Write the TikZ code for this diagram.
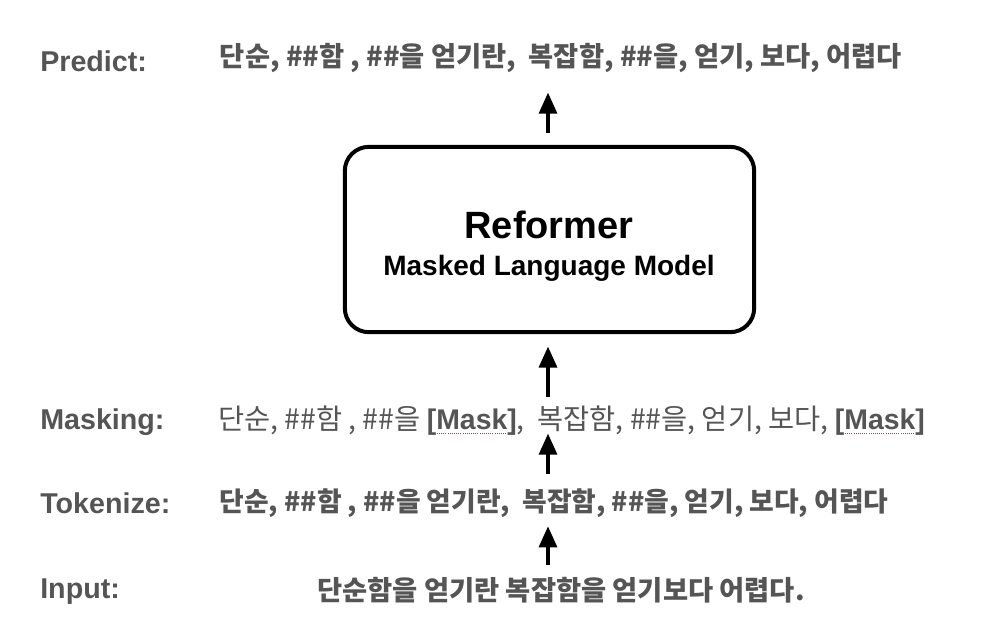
\documentclass[tikz,border=0pt]{standalone}
\usepackage{fontspec}
\usepackage{calc}
\setmainfont{Liberation Sans}
\newfontfamily\kr{Noto Sans CJK KR}
\usetikzlibrary{arrows.meta}

\definecolor{txtgray}{RGB}{85,85,85}
\definecolor{spellred}{RGB}{230,40,40}

\newlength\maskwd
\newcommand\maskword[1]{\settowidth\maskwd{#1}\rlap{\color{spellred}\raisebox{-3.5pt}{\hbox to \maskwd{\leaders\hbox to 1.6pt{\hss\rule{0.7pt}{0.7pt}\hss}\hfill}}}#1}

\tikzset{
  steplabel/.style={anchor=west, inner sep=0pt, text=txtgray, font=\bfseries\fontsize{21.5}{26}\selectfont},
  tokline/.style={inner sep=0pt, text=txtgray, text height=16pt, text depth=1.5pt, font=\kr\fontsize{21.3}{25}\selectfont},
  boldline/.style={tokline, font=\kr\bfseries\fontsize{20.5}{25}\selectfont},
  modelbox/.style={draw, line width=3pt, rounded corners=18pt, minimum width=307pt, minimum height=139pt},
  upflow/.style={line width=3.6pt, -{Triangle[width=13pt,length=16pt]}},
}

\begin{document}
\begin{tikzpicture}[x=0.75pt,y=0.75pt,yscale=-1,xscale=1]
\useasboundingbox (0,0) rectangle (996,640);

% Labels on the left
\node [steplabel] (lpred) at (40,61) {Predict:};
\node [steplabel] (lmask) at (40,422) {Masking:};
\node [steplabel] (ltok) at (40,503) {Tokenize:};
\node [steplabel] (linp) at (40,592) {Input:};

% Text lines
\node [boldline] (pred) at (561,57) {단순, \#\#함 , \#\#을 얻기란,\ \ 복잡함, \#\#을, 얻기, 보다, 어렵다};
\node [tokline] (mask) at (571.5,420) {단순, \#\#함 , \#\#을 {\rmfamily\bfseries [\maskword{Mask}]},\ \ 복잡함, \#\#을, 얻기, 보다, {\rmfamily\bfseries [\maskword{Mask}]}};
\node [boldline, font=\kr\bfseries\fontsize{20.1}{25}\selectfont] (tok) at (554,502) {단순, \#\#함 , \#\#을 얻기란,\ \ 복잡함, \#\#을, 얻기, 보다, 어렵다};
\node [boldline] (inp) at (561,591) {단순함을 얻기란 복잡함을 얻기보다 어렵다.};

% Model box
\node [modelbox] (model) at (549.5,239.5) {};
\node [font=\bfseries\fontsize{28.5}{32}\selectfont, inner sep=0pt] (title) at (549,225) {Reformer};
\node [font=\bfseries\fontsize{21}{25}\selectfont, inner sep=0pt] (sub) at (549,268) {Masked Language Model};

% Arrows
\draw [upflow, shorten <=10.7pt, shorten >=9pt] (inp.north -| 548,0) -- (tok.south -| 548,0);
\draw [upflow, shorten <=12.2pt, shorten >=1pt] (tok.north -| 548,0) -- (mask.south -| 548,0);
\draw [upflow, shorten <=8.5pt, shorten >=9pt] (mask.north -| 548,0) -- (model.south -| 548,0);
\draw [upflow, shorten <=9pt, shorten >=17.5pt] (model.north -| 548,0) -- (pred.south -| 548,0);

\end{tikzpicture}
\end{document}
